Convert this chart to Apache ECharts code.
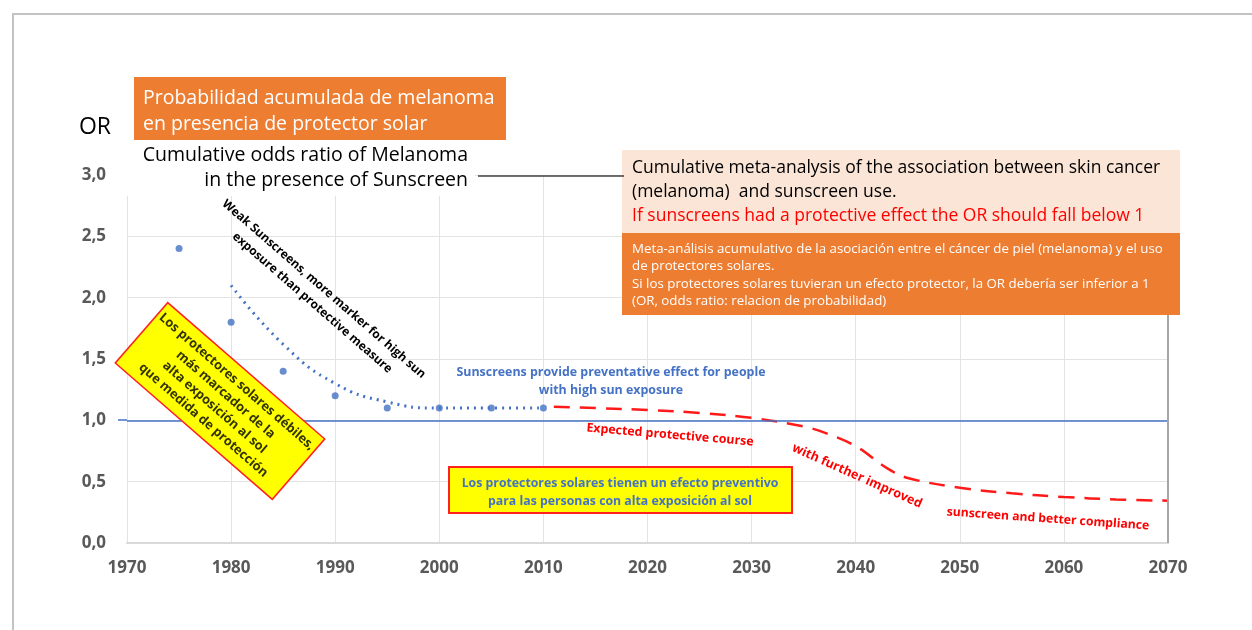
<!DOCTYPE html>
<html><head><meta charset="utf-8">
<script src="https://cdn.jsdelivr.net/npm/echarts@6/dist/echarts.min.js"></script>
<style>html,body{margin:0;padding:0;background:#fff}#c{width:1252px;height:630px}</style>
</head><body><div id="c"></div><script>
// ---- data ----
const obsYears = [1975, 1980, 1985, 1990, 1995, 2000, 2005, 2010];
const obsOR    = [2.4, 1.8, 1.4, 1.2, 1.1, 1.1, 1.1, 1.1];
const trendYears = [1980, 1985, 1990, 1995, 2000, 2005, 2010];
const trendOR    = [2.1, 1.62, 1.3, 1.15, 1.1, 1.1, 1.1];
const projYears = [2011, 2015, 2020, 2025, 2030, 2035, 2037, 2040, 2043, 2045, 2050, 2055, 2060, 2065, 2070];
const projOR    = [1.11, 1.10, 1.085, 1.06, 1.02, 0.95, 0.90, 0.79, 0.61, 0.53, 0.45, 0.405, 0.375, 0.355, 0.345];
const refOR = 1.0;
const xMin = 1970, xMax = 2070, xStep = 10;
const yMin = 0, yMax = 3, yStep = 0.5;

const FF = '"Open Sans", Lato, sans-serif';
const zip = (xs, ys) => xs.map((x, i) => [x, ys[i]]);

function txt(x, y, text, opt) {
  opt = opt || {};
  return {
    type: 'text', x: x, y: y, z: 110, rotation: opt.rot || 0,
    style: {
      text: text, x: 0, y: 0,
      fill: opt.color || '#000',
      fontSize: opt.size || 13, fontFamily: FF, fontWeight: opt.weight || 'normal',
      lineHeight: opt.lh || Math.round((opt.size || 13) * 1.3),
      align: opt.align || 'center', textAlign: opt.align || 'center',
      verticalAlign: 'middle', textVerticalAlign: 'middle'
    }
  };
}
function rect(x, y, w, h, fill, stroke, lw) {
  return { type: 'rect', z: 105, shape: { x: x, y: y, width: w, height: h },
    style: { fill: fill, stroke: stroke || null, lineWidth: lw || 0 } };
}

const chart = echarts.init(document.getElementById('c'), null, { renderer: 'canvas' });
chart.setOption({
  animation: false,
  backgroundColor: '#fff',
  grid: { left: 127, right: 84, top: 175, bottom: 87, containLabel: false },
  xAxis: {
    type: 'value', min: xMin, max: xMax, interval: xStep,
    axisLine: { show: true, lineStyle: { color: '#d9d9d9', width: 2 } },
    axisTick: { show: false },
    axisLabel: { color: '#595959', fontSize: 17, fontWeight: 'bold', fontFamily: FF, margin: 17,
      formatter: v => String(v) },
    splitLine: { show: true, lineStyle: { color: '#e3e3e3', width: 1 } }
  },
  yAxis: {
    type: 'value', min: yMin, max: yMax, interval: yStep,
    axisLine: { show: false }, axisTick: { show: false },
    axisLabel: { color: '#595959', fontSize: 17, fontWeight: 'bold', fontFamily: FF, margin: 21,
      formatter: v => v.toFixed(1).replace('.', ',') },
    splitLine: { show: true, lineStyle: { color: '#e3e3e3', width: 1 } }
  },
  series: [
    {
      type: 'line', data: zip(trendYears, trendOR), smooth: 0.5, symbol: 'none',
      lineStyle: { color: '#4472C4', width: 3, type: [2, 5] }, z: 3,
      markLine: {
        silent: true, symbol: 'none', label: { show: false },
        data: [
          { yAxis: refOR, lineStyle: { color: '#4472C4', width: 1.5, type: 'solid' } },
          { xAxis: xMax, lineStyle: { color: '#a6a6a6', width: 2, type: 'solid' } }
        ]
      }
    },
    {
      type: 'line', data: zip(projYears, projOR), smooth: 0.35, symbol: 'none',
      lineStyle: { color: '#FF1A1A', width: 2.5, type: [16, 10] }, z: 3
    },
    {
      type: 'scatter', data: zip(obsYears, obsOR), symbolSize: 7,
      itemStyle: { color: '#4472C4' }, z: 4
    }
  ],
  graphic: [
    // outer frame
    { type: 'polyline', z: 100, shape: { points: [[13, 630], [13, 14], [1252, 14]] },
      style: { stroke: '#c3c3c3', lineWidth: 2, fill: null } },
    // short extension of the reference line left of the plot
    { type: 'line', z: 100, shape: { x1: 118, y1: 420, x2: 127, y2: 420 }, style: { stroke: '#4472C4', lineWidth: 1.5 } },
    // white cover behind the English subtitle
    rect(118, 143, 357, 53, '#ffffff'),
    // connector line
    { type: 'line', z: 106, shape: { x1: 478, y1: 176, x2: 624, y2: 176 }, style: { stroke: '#404040', lineWidth: 1.5 } },
    // orange title box
    rect(134, 77, 372, 63, '#ED7D31'),
    txt(143, 98, 'Probabilidad acumulada de melanoma', { color: '#fff', size: 19.5, align: 'left' }),
    txt(143, 124, 'en presencia de protector solar', { color: '#fff', size: 19.5, align: 'left' }),
    txt(95, 127, 'OR', { size: 23 }),
    txt(468, 155, 'Cumulative odds ratio of Melanoma', { size: 19.5, align: 'right' }),
    txt(468, 180, 'in the presence of Sunscreen', { size: 19.5, align: 'right' }),
    // peach box
    rect(622, 150, 558, 83, '#FBE5D6'),
    txt(632, 168, 'Cumulative meta-analysis of the association between skin cancer', { size: 17.5, align: 'left' }),
    txt(632, 192, '(melanoma)  and sunscreen use.', { size: 17.5, align: 'left' }),
    txt(632, 216, 'If sunscreens had a protective effect the OR should fall below 1', { size: 17.5, align: 'left', color: '#FF0000' }),
    // orange spanish box
    rect(622, 233, 558, 82, '#ED7D31'),
    txt(632, 249, 'Meta-análisis acumulativo de la asociación entre el cáncer de piel (melanoma) y el uso', { size: 13.3, align: 'left', color: '#fff' }),
    txt(632, 266, 'de protectores solares.', { size: 13.3, align: 'left', color: '#fff' }),
    txt(632, 284, 'Si los protectores solares tuvieran un efecto protector, la OR debería ser inferior a 1', { size: 13.3, align: 'left', color: '#fff' }),
    txt(632, 301, '(OR, odds ratio: relacion de probabilidad)', { size: 13.3, align: 'left', color: '#fff' }),
    // rotated black note
    txt(318, 296, 'Weak Sunscreens, more marker for high sun\nexposure than protective measure',
      { size: 12, weight: 'bold', rot: -41 * Math.PI / 180, lh: 18 }),
    // rotated yellow box
    { type: 'group', x: 220, y: 401, rotation: -41 * Math.PI / 180, z: 108, children: [
      { type: 'rect', z: 108, shape: { x: -104, y: -40, width: 208, height: 80 },
        style: { fill: '#FFFF00', stroke: '#FF2020', lineWidth: 1.5 } },
      { type: 'text', z: 109, x: 0, y: 0, style: { text: 'Los protectores solares débiles,\nmás marcador de la\nalta exposición al sol\nque medida de protección',
        x: 0, y: 0, fill: '#333300', fontSize: 12.8, fontFamily: FF, fontWeight: 'bold', lineHeight: 17,
        align: 'center', textAlign: 'center', verticalAlign: 'middle', textVerticalAlign: 'middle' } }
    ] },
    // blue note
    txt(611, 372, 'Sunscreens provide preventative effect for people', { size: 12.4, weight: 'bold', color: '#4472C4' }),
    txt(611, 390, 'with high sun exposure', { size: 12.4, weight: 'bold', color: '#4472C4' }),
    // red notes
    txt(670, 435, 'Expected protective course', { size: 12.4, weight: 'bold', color: '#FF0000', rot: -4.8 * Math.PI / 180 }),
    txt(857, 476, 'with further improved', { size: 12.6, weight: 'bold', color: '#FF0000', rot: -24 * Math.PI / 180 }),
    txt(1048, 519, 'sunscreen and better compliance', { size: 12.2, weight: 'bold', color: '#FF0000', rot: -4 * Math.PI / 180 }),
    // yellow horizontal box
    rect(449, 467, 343, 46, '#FFFF00', '#FF2020', 2),
    txt(620, 483, 'Los protectores solares tienen un efecto preventivo', { size: 12.3, weight: 'bold', color: '#4472C4' }),
    txt(620, 501, 'para las personas con alta exposición al sol', { size: 12.3, weight: 'bold', color: '#4472C4' })
  ]
});
</script></body></html>
